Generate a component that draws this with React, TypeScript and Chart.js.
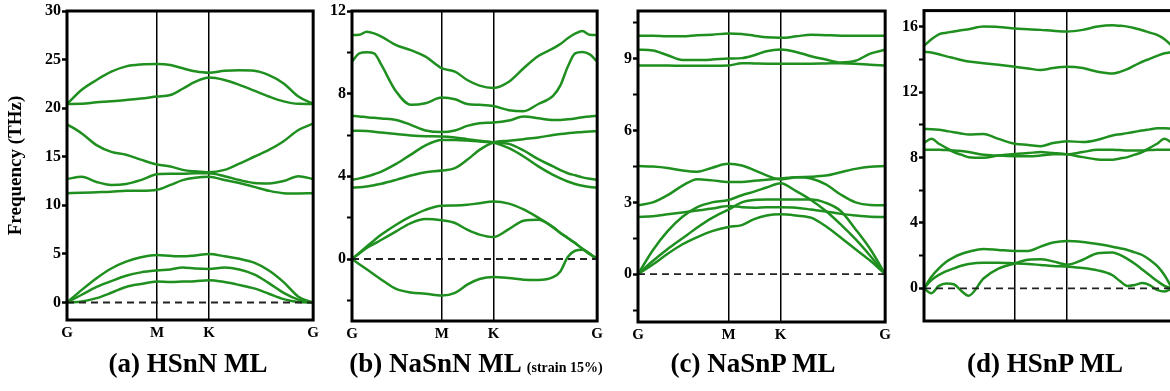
import React, { useEffect, useRef } from "react";
import { Chart, registerables } from "chart.js";

Chart.register(...registerables);

const FONT = "'Liberation Serif', 'Times New Roman', serif";
const GREEN = "#1f8f1f";

// High-symmetry path G-M-K-G (fraction of path length)
const PATH_TICKS = [0, 0.366, 0.577, 1];
const PATH_LABELS = ["G", "M", "K", "G"];

// ---------- (a) HSnN ML ----------
const A_X = [0, 0.06, 0.12, 0.18, 0.24, 0.3, 0.366, 0.42, 0.47, 0.52, 0.577, 0.64, 0.7, 0.76, 0.82, 0.88, 0.94, 1];
const A_B1 = [0, 0.1, 0.45, 1.0, 1.6, 1.9, 2.15, 2.1, 2.15, 2.2, 2.3, 2.1, 1.8, 1.45, 0.9, 0.35, 0.05, 0];
const A_B2 = [0, 0.8, 1.6, 2.2, 2.75, 3.1, 3.3, 3.4, 3.6, 3.5, 3.45, 3.6, 3.4, 2.9, 2.0, 1.0, 0.3, 0];
const A_B3 = [0, 1.3, 2.5, 3.5, 4.2, 4.65, 4.9, 4.8, 4.75, 4.85, 5.0, 4.75, 4.5, 4.1, 3.3, 2.1, 0.6, 0];
const A_B4 = [11.24, 11.3, 11.35, 11.4, 11.5, 11.5, 11.6, 12.1, 12.6, 12.85, 12.95, 12.6, 12.3, 11.9, 11.5, 11.25, 11.22, 11.24];
const A_B5 = [12.7, 12.95, 12.4, 12.1, 12.2, 12.6, 13.2, 13.25, 13.25, 13.3, 13.3, 13.0, 12.6, 12.3, 12.25, 12.5, 13.0, 12.7];
const A_B6 = [18.35, 17.4, 16.2, 15.5, 15.2, 14.7, 14.2, 14.0, 13.65, 13.5, 13.4, 13.65, 14.3, 15.0, 15.7, 16.6, 17.75, 18.4];
const A_B7 = [20.43, 20.45, 20.6, 20.7, 20.85, 21.0, 21.2, 21.35, 22.0, 22.7, 23.15, 22.9, 22.4, 21.8, 21.2, 20.7, 20.45, 20.43];
const A_B8 = [20.43, 21.9, 22.9, 23.75, 24.3, 24.5, 24.55, 24.45, 24.1, 23.8, 23.65, 23.85, 23.9, 23.85, 23.4, 22.55, 21.2, 20.43];
const A_MAJOR = [0, 5, 10, 15, 20, 25, 30];
const A_MINOR: number[] = [];

// ---------- (b) NaSnN ML (strain 15%) ----------
const B_X = [0, 0.03, 0.06, 0.09, 0.12, 0.18, 0.24, 0.3, 0.366, 0.42, 0.47, 0.52, 0.577, 0.64, 0.7, 0.76, 0.82, 0.85, 0.88, 0.91, 0.94, 0.97, 1];
const B_B1 = [0, -0.25, -0.5, -0.75, -1.0, -1.45, -1.62, -1.68, -1.77, -1.64, -1.24, -0.97, -0.87, -0.92, -1.0, -1.02, -0.88, -0.6, 0.1, 0.4, 0.45, 0.23, 0];
const B_B2 = [0, 0.27, 0.53, 0.73, 0.93, 1.34, 1.74, 1.93, 1.87, 1.74, 1.42, 1.18, 1.06, 1.45, 1.85, 1.9, 1.53, 1.26, 1.02, 0.77, 0.5, 0.25, 0];
const B_B3 = [0, 0.3, 0.61, 0.9, 1.18, 1.66, 2.06, 2.38, 2.58, 2.59, 2.62, 2.7, 2.78, 2.68, 2.4, 2.0, 1.55, 1.26, 1.02, 0.77, 0.5, 0.25, 0];
const B_B4 = [3.46, 3.47, 3.51, 3.57, 3.64, 3.83, 4.04, 4.2, 4.28, 4.4, 4.8, 5.28, 5.64, 5.72, 5.8, 5.88, 6.0, 6.05, 6.09, 6.12, 6.15, 6.17, 6.18];
const B_B5 = [3.83, 3.9, 3.99, 4.1, 4.23, 4.6, 5.05, 5.5, 5.76, 5.76, 5.73, 5.68, 5.64, 5.57, 5.25, 4.83, 4.48, 4.3, 4.15, 4.05, 3.95, 3.88, 3.83];
const B_B6 = [6.2, 6.2, 6.19, 6.16, 6.12, 6.05, 5.98, 5.94, 5.93, 5.88, 5.8, 5.72, 5.64, 5.36, 4.96, 4.48, 4.07, 3.9, 3.75, 3.63, 3.54, 3.48, 3.46];
const B_B7 = [6.92, 6.9, 6.86, 6.83, 6.8, 6.73, 6.49, 6.22, 6.14, 6.22, 6.44, 6.57, 6.6, 6.7, 6.89, 6.81, 6.73, 6.73, 6.76, 6.8, 6.86, 6.9, 6.92];
const B_B8 = [9.55, 9.95, 10.0, 9.95, 9.39, 8.1, 7.46, 7.54, 7.81, 7.73, 7.5, 7.46, 7.4, 7.2, 7.15, 7.5, 7.89, 8.4, 9.3, 9.95, 10.02, 9.9, 9.55];
const B_B9 = [10.84, 10.85, 11.0, 10.92, 10.76, 10.35, 10.11, 9.79, 9.23, 9.07, 8.66, 8.39, 8.28, 8.58, 9.23, 9.82, 10.19, 10.4, 10.68, 10.9, 11.03, 10.85, 10.84];
const B_MAJOR = [0, 4, 8, 12];
const B_MINOR = [-2, 2, 6, 10];

// ---------- (c) NaSnP ML ----------
const C_X = [0, 0.06, 0.12, 0.18, 0.24, 0.3, 0.366, 0.42, 0.47, 0.52, 0.577, 0.64, 0.7, 0.76, 0.82, 0.88, 0.94, 1];
const C_B1 = [0, 0.4, 0.85, 1.25, 1.55, 1.8, 1.97, 2.05, 2.3, 2.45, 2.5, 2.45, 2.36, 2.0, 1.53, 1.04, 0.56, 0];
const C_B2 = [0, 0.55, 1.05, 1.5, 1.95, 2.35, 2.7, 3.0, 3.1, 3.12, 3.12, 3.12, 3.12, 2.98, 2.64, 1.88, 1.04, 0];
const C_B3 = [0, 1.0, 1.8, 2.4, 2.8, 3.0, 3.1, 3.3, 3.45, 3.62, 3.8, 3.47, 3.1, 2.64, 2.08, 1.46, 0.76, 0];
const C_B4 = [2.39, 2.42, 2.5, 2.58, 2.66, 2.74, 2.85, 2.8, 2.78, 2.8, 2.8, 2.78, 2.7, 2.62, 2.52, 2.45, 2.4, 2.39];
const C_B5 = [2.88, 3.0, 3.3, 3.7, 3.97, 3.92, 3.85, 3.85, 3.9, 3.95, 4.0, 4.05, 4.0, 3.75, 3.33, 3.0, 2.89, 2.88];
const C_B6 = [4.52, 4.5, 4.44, 4.33, 4.28, 4.45, 4.61, 4.54, 4.35, 4.13, 3.96, 4.05, 4.07, 4.12, 4.26, 4.4, 4.49, 4.52];
const C_B7 = [8.72, 8.72, 8.72, 8.71, 8.71, 8.71, 8.72, 8.82, 8.81, 8.8, 8.8, 8.8, 8.8, 8.81, 8.82, 8.8, 8.75, 8.72];
const C_B8 = [9.38, 9.35, 9.15, 8.95, 8.95, 8.97, 9.01, 9.03, 9.15, 9.32, 9.39, 9.29, 9.11, 8.97, 8.85, 8.92, 9.22, 9.38];
const C_B9 = [9.97, 9.97, 9.94, 9.94, 9.99, 10.01, 10.06, 10.04, 9.97, 9.9, 9.88, 9.94, 10.01, 9.99, 9.97, 9.97, 9.97, 9.97];
const C_MAJOR = [0, 3, 6, 9];
const C_MINOR = [-1.5, 1.5, 4.5, 7.5, 10.5];

// ---------- (d) HSnP ML ----------
const D_X = [0, 0.03, 0.06, 0.09, 0.12, 0.15, 0.18, 0.24, 0.3, 0.366, 0.42, 0.47, 0.52, 0.577, 0.64, 0.7, 0.76, 0.79, 0.82, 0.85, 0.88, 0.91, 0.94, 0.97, 1];
const D_B1 = [0, -0.3, 0.15, 0.3, 0.25, -0.15, -0.45, 0.6, 1.2, 1.52, 1.75, 1.78, 1.65, 1.45, 1.75, 2.15, 2.2, 2.05, 1.8, 1.5, 1.15, 0.8, 0.45, 0.15, 0];
const D_B2 = [0, 0.5, 0.82, 1.05, 1.22, 1.38, 1.49, 1.57, 1.57, 1.53, 1.49, 1.43, 1.37, 1.33, 1.25, 1.1, 0.8, 0.45, 0.15, 0.2, 0.32, 0.2, -0.1, -0.2, 0];
const D_B3 = [0, 0.71, 1.22, 1.63, 1.9, 2.1, 2.24, 2.41, 2.35, 2.29, 2.29, 2.55, 2.8, 2.9, 2.84, 2.71, 2.55, 2.45, 2.35, 2.2, 2.04, 1.75, 1.37, 0.8, 0];
const D_B4 = [8.48, 8.48, 8.48, 8.46, 8.44, 8.4, 8.34, 8.17, 8.13, 8.09, 8.09, 8.13, 8.2, 8.2, 8.34, 8.48, 8.48, 8.46, 8.44, 8.44, 8.44, 8.46, 8.48, 8.48, 8.48];
const D_B5 = [8.89, 9.15, 8.85, 8.6, 8.34, 8.18, 8.03, 7.99, 8.13, 8.23, 8.28, 8.34, 8.28, 8.2, 8.03, 7.89, 7.87, 7.95, 8.03, 8.18, 8.34, 8.6, 8.85, 9.15, 8.89];
const D_B6 = [9.76, 9.74, 9.7, 9.63, 9.56, 9.48, 9.41, 9.45, 9.15, 8.85, 8.78, 8.7, 8.89, 9.01, 8.95, 9.09, 9.36, 9.43, 9.5, 9.58, 9.66, 9.73, 9.8, 9.8, 9.76];
const D_B7 = [14.48, 14.43, 14.33, 14.2, 14.09, 13.98, 13.89, 13.78, 13.68, 13.56, 13.46, 13.36, 13.48, 13.56, 13.48, 13.26, 13.15, 13.25, 13.42, 13.65, 13.87, 14.05, 14.23, 14.39, 14.46];
const D_B8 = [14.84, 15.25, 15.55, 15.65, 15.72, 15.8, 15.86, 16.02, 16.0, 15.9, 15.86, 15.82, 15.76, 15.72, 15.82, 16.02, 16.1, 16.07, 16.02, 15.92, 15.8, 15.65, 15.51, 15.25, 14.84];
const D_MAJOR = [0, 4, 8, 12, 16];
const D_MINOR = [2, 6, 10, 14];

const framePlugin = {
  id: "frame",
  afterDatasetsDraw(chart: any) {
    const { ctx, chartArea: a } = chart;
    ctx.save();
    ctx.strokeStyle = "#000";
    ctx.lineWidth = 3;
    ctx.strokeRect(a.left, a.top, a.right - a.left, a.bottom - a.top);
    ctx.restore();
  },
};

type Area = { left: number; top: number; right: number; bottom: number };

type PanelProps = {
  xs: number[];
  bands: number[][];
  yMin: number;
  yMax: number;
  major: number[];
  minor: number[];
  area: Area;
  yAxisW: number;
  showX: boolean;
  yTitle?: string;
};

function Panel(p: PanelProps) {
  const ref = useRef<HTMLCanvasElement>(null);
  const padRight = 8;
  const xAxisH = 28;
  const canvasLeft = p.area.left - p.yAxisW;
  const cw = p.area.right - canvasLeft + padRight;
  const ch = p.area.bottom + xAxisH;

  useEffect(() => {
    const allY = [...p.major, ...p.minor].sort((a, b) => a - b);
    const datasets: any[] = [
      {
        data: [
          { x: 0, y: 0 },
          { x: 1, y: 0 },
        ],
        borderColor: "#222",
        borderDash: [7, 5],
        borderWidth: 1.8,
        pointRadius: 0,
      },
      ...p.bands.map((b) => ({
        data: p.xs.map((x, i) => ({ x, y: b[i] })),
        borderColor: GREEN,
        borderWidth: 2.5,
        pointRadius: 0,
        cubicInterpolationMode: "monotone",
      })),
    ];
    const chart = new Chart(ref.current as HTMLCanvasElement, {
      type: "line",
      data: { datasets },
      options: {
        animation: false,
        responsive: false,
        events: [],
        layout: { padding: { top: p.area.top, right: padRight, left: 0, bottom: 0 } },
        plugins: { legend: { display: false }, tooltip: { enabled: false } },
        scales: {
          x: {
            type: "linear",
            min: 0,
            max: 1,
            afterBuildTicks: (s: any) => {
              s.ticks = PATH_TICKS.map((v) => ({ value: v }));
            },
            afterFit: (s: any) => {
              s.height = xAxisH;
            },
            grid: {
              color: (c: any) =>
                c.tick && c.tick.value > 0 && c.tick.value < 1 ? "#000" : "rgba(0,0,0,0)",
              lineWidth: 1.5,
              drawTicks: false,
            },
            border: { display: false },
            ticks: {
              display: p.showX,
              autoSkip: false,
              maxRotation: 0,
              padding: 4,
              color: "#000",
              font: { family: FONT, size: 15, weight: "bold" },
              callback: (_v: any, i: number) => PATH_LABELS[i],
            },
          },
          y: {
            type: "linear",
            min: p.yMin,
            max: p.yMax,
            afterBuildTicks: (s: any) => {
              s.ticks = allY.map((v) => ({ value: v }));
            },
            afterFit: (s: any) => {
              s.width = p.yAxisW;
            },
            grid: {
              drawOnChartArea: false,
              drawTicks: true,
              tickLength: 5,
              tickColor: "#000",
              tickWidth: (c: any) => (c.tick && p.major.includes(c.tick.value) ? 2.5 : 2),
            },
            border: { display: false },
            ticks: {
              autoSkip: false,
              padding: 1,
              color: "#000",
              font: { family: FONT, size: 16, weight: "bold" },
              callback: (v: any) => (p.major.includes(Number(v)) ? String(v) : ""),
            },
            title: p.yTitle
              ? {
                  display: true,
                  text: p.yTitle,
                  color: "#000",
                  font: { family: FONT, size: 19, weight: "bold" },
                  padding: { top: 5, bottom: 0 },
                }
              : { display: false },
          },
        },
      } as any,
      plugins: [framePlugin],
    });
    return () => chart.destroy();
  }, []);

  return (
    <canvas
      ref={ref}
      width={cw}
      height={ch}
      style={{ position: "absolute", left: canvasLeft, top: 0, width: cw, height: ch }}
    />
  );
}

function Caption(props: { cx: number; main: string; sub?: string }) {
  return (
    <div
      style={{
        position: "absolute",
        left: props.cx - 200,
        top: 348,
        width: 400,
        textAlign: "center",
        fontFamily: FONT,
        fontWeight: "bold",
        fontSize: 27,
        lineHeight: "31px",
        color: "#000",
        whiteSpace: "nowrap",
      }}
    >
      {props.main}
      {props.sub ? <span style={{ fontSize: 14, marginLeft: 5 }}>{props.sub}</span> : null}
    </div>
  );
}

export default function App() {
  return (
    <div
      style={{
        position: "absolute",
        left: 0,
        top: 0,
        width: 1170,
        height: 391,
        overflow: "hidden",
        background: "#fff",
      }}
    >
      <Panel
        xs={A_X}
        bands={[A_B1, A_B2, A_B3, A_B4, A_B5, A_B6, A_B7, A_B8]}
        yMin={-1.8}
        yMax={30}
        major={A_MAJOR}
        minor={A_MINOR}
        area={{ left: 67, top: 11, right: 315, bottom: 320 }}
        yAxisW={67}
        showX={true}
        yTitle="Frequency (THz)"
      />
      <Panel
        xs={B_X}
        bands={[B_B1, B_B2, B_B3, B_B4, B_B5, B_B6, B_B7, B_B8, B_B9]}
        yMin={-3}
        yMax={12}
        major={B_MAJOR}
        minor={B_MINOR}
        area={{ left: 352, top: 11, right: 599, bottom: 321 }}
        yAxisW={30}
        showX={true}
      />
      <Panel
        xs={C_X}
        bands={[C_B1, C_B2, C_B3, C_B4, C_B5, C_B6, C_B7, C_B8, C_B9]}
        yMin={-2}
        yMax={11}
        major={C_MAJOR}
        minor={C_MINOR}
        area={{ left: 638, top: 11, right: 887, bottom: 322 }}
        yAxisW={30}
        showX={true}
      />
      <Panel
        xs={D_X}
        bands={[D_B1, D_B2, D_B3, D_B4, D_B5, D_B6, D_B7, D_B8]}
        yMin={-2}
        yMax={17}
        major={D_MAJOR}
        minor={D_MINOR}
        area={{ left: 924, top: 10, right: 1172, bottom: 321 }}
        yAxisW={36}
        showX={false}
      />
      <Caption cx={188} main="(a) HSnN ML" />
      <Caption cx={476} main="(b) NaSnN ML" sub="(strain 15%)" />
      <Caption cx={753} main="(c) NaSnP ML" />
      <Caption cx={1045} main="(d) HSnP ML" />
    </div>
  );
}
